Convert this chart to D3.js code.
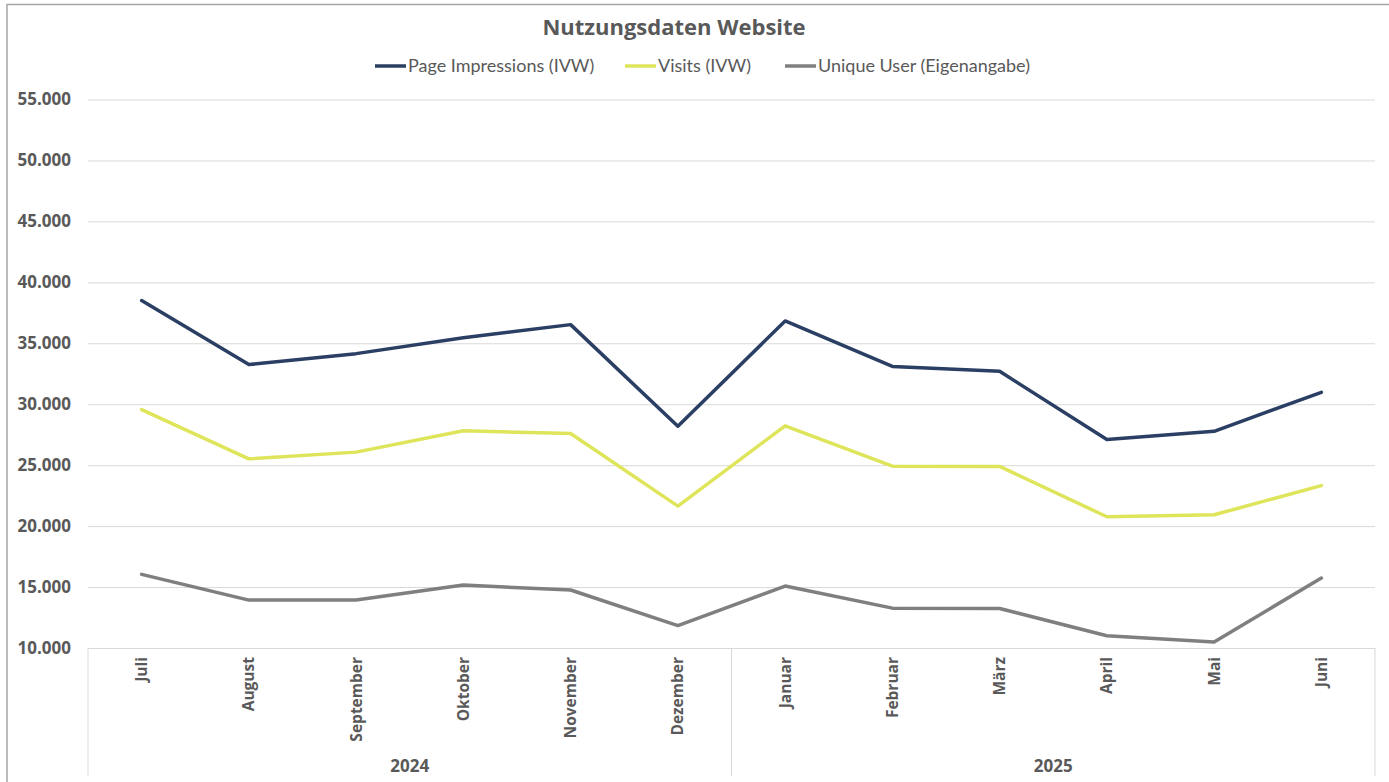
<!DOCTYPE html>
<html lang="de">
<head>
<meta charset="utf-8">
<script src="https://cdn.jsdelivr.net/npm/d3@7"></script>
<style>
  html, body { margin: 0; padding: 0; background: #fff; }
  svg { display: block; }
</style>
</head>
<body>
<svg id="chart" width="1389" height="782"></svg>
<script>
// Monthly website usage, July 2024 – June 2025
const months = ["Juli", "August", "September", "Oktober", "November", "Dezember",
                "Januar", "Februar", "März", "April", "Mai", "Juni"];
const years = [
  { label: "2024", from: 0, to: 5 },
  { label: "2025", from: 6, to: 11 }
];
const pageImpressions = [38500, 33250, 34150, 35450, 36530, 28200, 36830, 33100, 32700, 27100, 27780, 30980];
const visits          = [29560, 25520, 26070, 27820, 27600, 21640, 28230, 24920, 24900, 20770, 20930, 23320];
const uniqueUser      = [16040, 13930, 13930, 15160, 14760, 11840, 15080, 13270, 13240, 11010, 10500, 15740];
const yTicks = [10000, 15000, 20000, 25000, 30000, 35000, 40000, 45000, 50000, 55000];

const seriesList = [
  { name: "Page Impressions (IVW)", values: pageImpressions, color: "#2a3f63" },
  { name: "Visits (IVW)",           values: visits,          color: "#dfe55a" },
  { name: "Unique User (Eigenangabe)", values: uniqueUser,   color: "#7f7f7f" }
];

const svg = d3.select("#chart");
const textColor = "#595959";
const gridColor = "#d9d9d9";
const font = "'Open Sans', 'DejaVu Sans', sans-serif";

// outer frame of the chart area
svg.append("rect")
  .attr("x", 7).attr("y", 4.5).attr("width", 1400).attr("height", 800)
  .attr("fill", "none").attr("stroke", "#a6a6a6").attr("stroke-width", 1.5);

const plot = { left: 88, right: 1375, top: 99.5, bottom: 648, axisBottom: 776 };

const x = d3.scaleBand().domain(months).range([plot.left, plot.right]).padding(0);
const y = d3.scaleLinear().domain([10000, 55000]).range([plot.bottom, plot.top]);

// title
svg.append("text")
  .attr("x", 674).attr("y", 35)
  .attr("text-anchor", "middle")
  .attr("font-family", font).attr("font-weight", "bold")
  .attr("font-size", 22).attr("fill", textColor)
  .text("Nutzungsdaten Website");

// legend
const legendPos = [375, 625, 785];
const legend = svg.append("g");
seriesList.forEach((s, i) => {
  const g = legend.append("g").attr("transform", `translate(${legendPos[i]},66)`);
  g.append("line").attr("x1", 0).attr("x2", 31).attr("y1", 0).attr("y2", 0)
    .attr("stroke", s.color).attr("stroke-width", 3.5);
  g.append("text").attr("x", 33).attr("y", 0).attr("dy", "0.35em")
    .attr("font-family", "Lato, sans-serif").attr("font-size", 18)
    .attr("fill", textColor).text(s.name);
});

// y axis with gridlines
const yAxis = d3.axisLeft(y)
  .tickValues(yTicks)
  .tickSize(-(plot.right - plot.left))
  .tickPadding(17)
  .tickFormat(d => d3.format(",")(d).replace(/,/g, "."));

const yG = svg.append("g")
  .attr("transform", `translate(${plot.left},0)`)
  .call(yAxis);
yG.select(".domain").remove();
yG.selectAll(".tick line").attr("stroke", gridColor).attr("stroke-width", 1);
yG.selectAll(".tick text")
  .attr("font-family", font).attr("font-weight", "bold")
  .attr("font-size", 17).attr("fill", textColor);

// category axis: month labels
const xAxis = d3.axisBottom(x).tickSize(0).tickPadding(0);
const xG = svg.append("g")
  .attr("transform", `translate(0,${plot.bottom})`)
  .call(xAxis);
xG.select(".domain").remove();
xG.selectAll(".tick text")
  .attr("transform", "rotate(-90)")
  .attr("text-anchor", "end")
  .attr("x", -9).attr("y", 0).attr("dy", "0.35em")
  .attr("font-family", font).attr("font-weight", "bold")
  .attr("font-size", 15.5).attr("fill", textColor);

// year group separators
const boundaries = [plot.left].concat(years.map(yr => x(months[yr.to]) + x.bandwidth()));
svg.append("g").selectAll("line").data(boundaries).join("line")
  .attr("x1", d => d).attr("x2", d => d)
  .attr("y1", plot.bottom).attr("y2", plot.axisBottom)
  .attr("stroke", gridColor).attr("stroke-width", 1);

// year labels
svg.append("g").selectAll("text").data(years).join("text")
  .attr("x", d => (x(months[d.from]) + x(months[d.to]) + x.bandwidth()) / 2)
  .attr("y", 766).attr("dy", "0.35em")
  .attr("text-anchor", "middle")
  .attr("font-family", font).attr("font-weight", "bold")
  .attr("font-size", 17).attr("fill", textColor)
  .text(d => d.label);

// data lines
const line = d3.line()
  .x((d, i) => x(months[i]) + x.bandwidth() / 2)
  .y(d => y(d));

svg.append("g").selectAll("path").data(seriesList).join("path")
  .attr("d", d => line(d.values))
  .attr("fill", "none")
  .attr("stroke", d => d.color)
  .attr("stroke-width", 3.5)
  .attr("stroke-linejoin", "round")
  .attr("stroke-linecap", "round");
</script>
</body>
</html>
